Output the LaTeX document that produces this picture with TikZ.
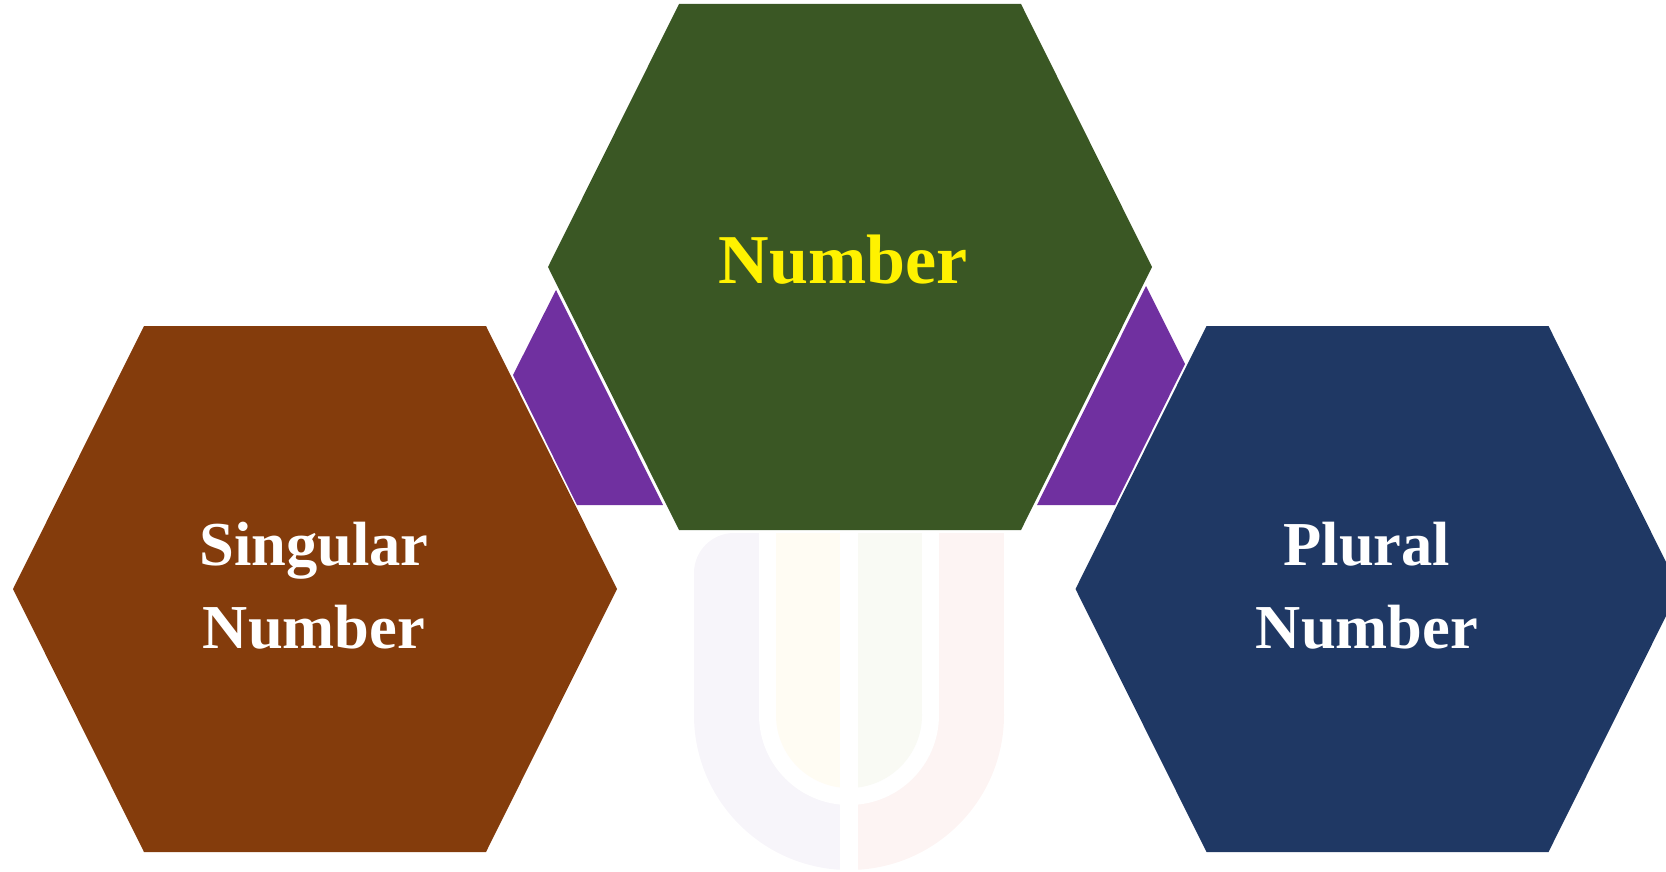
\documentclass[tikz,border=0pt]{standalone}
\usepackage{fontspec}
\setmainfont{Liberation Serif}
\definecolor{hbrown}{HTML}{843C0C}
\definecolor{hgreen}{HTML}{3A5724}
\definecolor{hnavy}{HTML}{1F3864}
\definecolor{hpurple}{HTML}{7030A0}
\definecolor{wlav}{HTML}{F7F5FA}
\definecolor{wpink}{HTML}{FDF4F3}
\definecolor{wcream}{HTML}{FFFCF3}
\definecolor{wgreen}{HTML}{F9FAF4}
\begin{document}
\begin{tikzpicture}[x=1pt,y=-1pt,
  hexa/.pic={\fill[pic actions] (-302,0) -- (-171,-263) -- (171,-263) -- (302,0) -- (171,263) -- (-171,263) -- cycle;},
  hexlabel/.style={text=white, font=\bfseries\fontsize{62.5}{83}\selectfont, align=center, inner sep=0pt},
  toplabel/.style={text=yellow, font=\bfseries\fontsize{70}{80}\selectfont, inner sep=0pt},
  purpleband/.style={fill=hpurple}]
\useasboundingbox (0,0) rectangle (1666,872);
\clip (0,0) rectangle (1666,872);
% faint watermark
\begin{scope}
  \clip (0,0) rectangle (849,872);
  \fill[wlav] (849,533) [rounded corners=40] -- (694,533) [sharp corners] -- (694,715.5) -- (849,715.5) -- cycle;
  \fill[wlav] (849,715) circle (155);
\end{scope}
\begin{scope}
  \clip (849,0) rectangle (1666,872);
  \fill[wpink] (849,533) rectangle (1004,715.5);
  \fill[wpink] (849,715) circle (155);
\end{scope}
\fill[white] (759,533) rectangle (939,715.5);
\fill[white] (849,715) circle (90);
\begin{scope}
  \clip (0,0) rectangle (849,872);
  \fill[wcream] (776,533) rectangle (849,715.5);
  \fill[wcream] (849,715) circle (73);
\end{scope}
\begin{scope}
  \clip (849,0) rectangle (1666,872);
  \fill[wgreen] (849,533) rectangle (922,715.5);
  \fill[wgreen] (849,715) circle (73);
\end{scope}
\fill[white] (840,533) rectangle (858,872);
% purple bands
\fill[purpleband] (556,290) -- (663,505) -- (577,505) -- (513,375) -- cycle;
\fill[purpleband] (1146,286) -- (1185,364) -- (1115,505) -- (1037,505) -- cycle;
% hexagons
\pic[fill=hbrown] at (315,589) {hexa};
\pic[fill=hgreen] at (850,267) {hexa};
\pic[fill=hnavy] at (1377.5,589) {hexa};
% labels
\node[toplabel, anchor=base] (num) at (843,283) {Number};
\node[hexlabel] (sing) at (314,586) {Singular\\Number};
\node[hexlabel] (plur) at (1367,586) {Plural\\Number};
\end{tikzpicture}
\end{document}
